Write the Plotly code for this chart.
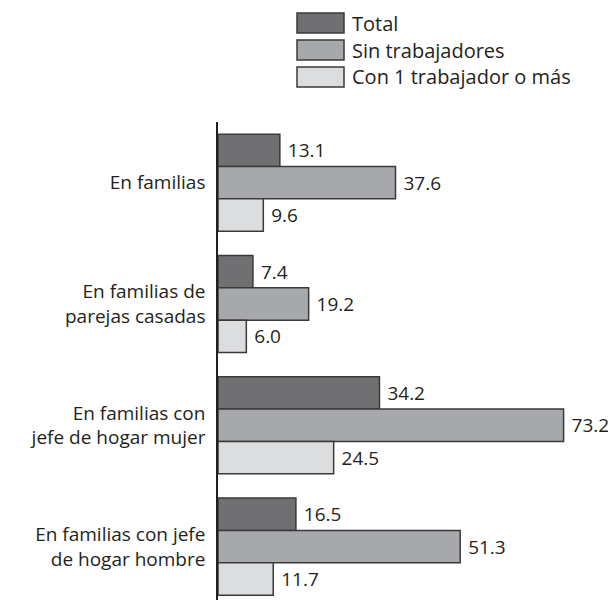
import plotly.graph_objects as go

categories = ["En familias", "En familias de<br>parejas casadas",
              "En familias con<br>jefe de hogar mujer", "En familias con jefe<br>de hogar hombre"]
series_names = ["Total", "Sin trabajadores", "Con 1 trabajador o más"]
total = [13.1, 7.4, 34.2, 16.5]
sin_trab = [37.6, 19.2, 73.2, 51.3]
con_trab = [9.6, 6.0, 24.5, 11.7]
colors = ["#707073", "#a7a8ab", "#dcdddf"]

FONT = "Open Sans"
TXT = "#231f20"
FS = 19

# figure geometry (page body has an 8px margin)
W, H = 608, 592
ML, MT = 210, 114
PW, PH = W - ML, H - MT

fig = go.Figure()
for name, vals, col in zip(series_names, [total, sin_trab, con_trab], colors):
    fig.add_trace(go.Bar(
        y=categories, x=vals, name=name, orientation="h",
        marker=dict(color=col, line=dict(color="#3a3a3a", width=1.5)),
        text=[f" {v:.1f}" for v in vals], textposition="outside",
        textfont=dict(family=FONT, size=FS, color=TXT),
        constraintext="none", cliponaxis=False, showlegend=False,
    ))

fig.update_layout(
    width=W, height=H,
    margin=dict(l=ML, r=0, t=MT, b=0, pad=0),
    paper_bgcolor="white", plot_bgcolor="white",
    barmode="group", bargap=0.2, bargroupgap=0,
    font=dict(family=FONT, size=FS, color=TXT),
    xaxis=dict(range=[0, 84.3], visible=False),
    yaxis=dict(type="category", categoryarray=categories, range=[3.44, -0.5],
               showline=True, linecolor="#231f20", linewidth=1.5,
               showgrid=False, ticks="", ticklabelstandoff=7,
               tickfont=dict(family=FONT, size=FS, color=TXT)),
)

def px(sx):
    return (sx - 8 - ML) / PW

def py(sy):
    return (H - (sy - 8)) / PH

# legend drawn as boxes + text (screen coordinates)
box_x0, box_x1 = 297, 344
row_tops = [13, 40, 67]
for name, col, top in zip(series_names, colors, row_tops):
    fig.add_shape(type="rect", xref="paper", yref="paper",
                  x0=px(box_x0), x1=px(box_x1),
                  y0=py(top + 20), y1=py(top),
                  fillcolor=col, line=dict(color="#3a3a3a", width=1.5))
    fig.add_annotation(xref="paper", yref="paper",
                       x=px(350), y=py(top + 10),
                       text=name, showarrow=False, xanchor="left", yanchor="middle",
                       font=dict(family=FONT, size=20, color=TXT))

fig.write_html("out.html")
